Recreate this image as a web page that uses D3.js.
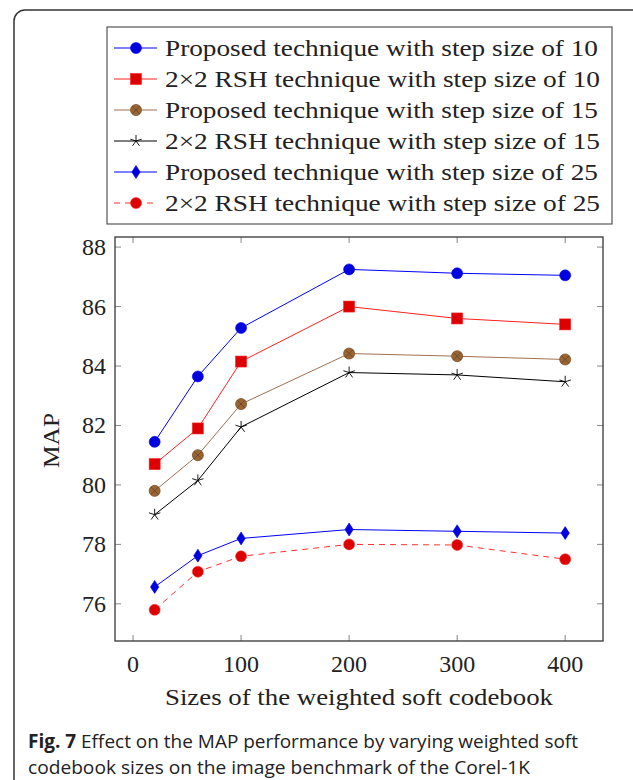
<!DOCTYPE html>
<html>
<head>
    <meta charset="utf-8">
    <title>MAP vs codebook size</title>
    <script src="https://cdn.jsdelivr.net/npm/d3@7"></script>
    <style>
        body { margin: 0; background: #fff; }
        text { font-family: "Liberation Serif", "DejaVu Serif", serif; fill: #222; }
        .cap { font-family: "Open Sans", "Noto Sans", sans-serif; }
    </style>
</head>
<body>
<script>
    // codebook sizes
    var sizes = [20, 60, 100, 200, 300, 400];
    // MAP values
    var prop10 = [81.45, 83.65, 85.28, 87.25, 87.12, 87.05];
    var rsh10  = [80.70, 81.90, 84.15, 86.00, 85.60, 85.40];
    var prop15 = [79.80, 81.00, 82.72, 84.42, 84.33, 84.22];
    var rsh15  = [79.00, 80.15, 81.95, 83.78, 83.70, 83.47];
    var prop25 = [76.57, 77.62, 78.20, 78.50, 78.44, 78.38];
    var rsh25  = [75.80, 77.08, 77.60, 78.00, 77.98, 77.50];
    var xTicks = [0, 100, 200, 300, 400];
    var yTicks = [76, 78, 80, 82, 84, 86, 88];
    var names = ['Proposed technique with step size of 10', '2\u00d72 RSH technique with step size of 10',
        'Proposed technique with step size of 15', '2\u00d72 RSH technique with step size of 15',
        'Proposed technique with step size of 25', '2\u00d72 RSH technique with step size of 25'];

    var series = [
        {name: names[0], values: prop10, line: '#0000ff', fill: '#0000dd', mark: 'circle', dash: null},
        {name: names[1], values: rsh10, line: '#ff2020', fill: '#dd0000', mark: 'square', dash: null},
        {name: names[2], values: prop15, line: '#a07050', fill: '#996633', mark: 'otimes', dash: null},
        {name: names[3], values: rsh15, line: '#000000', fill: '#000000', mark: 'star', dash: null},
        {name: names[4], values: prop25, line: '#0000ff', fill: '#0000dd', mark: 'diamond', dash: null},
        {name: names[5], values: rsh25, line: '#ff3030', fill: '#dd0000', mark: 'circle', dash: '6,5'}
    ];

    var width = 633, height = 780;
    var svg = d3.select('body').append('svg').attr('width', width).attr('height', height);
    var plot = {left: 115, right: 603, top: 237, bottom: 641};

    // outer rounded frame
    svg.append('rect').attr('x', 14).attr('y', 10).attr('width', 640).attr('height', 820)
        .attr('rx', 11).attr('fill', 'none').attr('stroke', '#333').attr('stroke-width', 1.5);

    var x = d3.scaleLinear().domain([-16.7, 435]).range([plot.left, plot.right]);
    var y = d3.scaleLinear().domain([74.75, 88.34]).range([plot.bottom, plot.top]);

    // ticks inside on all four sides
    var tickLen = 6;
    var g = svg.append('g');
    g.selectAll('.xt').data(xTicks).enter().append('path')
        .attr('d', function (d) {
            return 'M' + x(d) + ',' + plot.bottom + 'v' + (-tickLen) + 'M' + x(d) + ',' + plot.top + 'v' + tickLen;
        })
        .attr('stroke', '#888').attr('stroke-width', 1);
    g.selectAll('.yt').data(yTicks).enter().append('path')
        .attr('d', function (d) {
            return 'M' + plot.left + ',' + y(d) + 'h' + tickLen + 'M' + plot.right + ',' + y(d) + 'h' + (-tickLen);
        })
        .attr('stroke', '#888').attr('stroke-width', 1);

    g.selectAll('.xl').data(xTicks).enter().append('text')
        .attr('x', function (d) { return x(d); })
        .attr('y', 672)
        .attr('text-anchor', 'middle')
        .attr('font-size', 24)
        .text(function (d) { return d; });
    g.selectAll('.yl').data(yTicks).enter().append('text')
        .attr('x', 106)
        .attr('y', function (d) { return y(d) + 8; })
        .attr('text-anchor', 'end')
        .attr('font-size', 24)
        .text(function (d) { return d; });

    svg.append('rect').attr('x', plot.left).attr('y', plot.top)
        .attr('width', plot.right - plot.left).attr('height', plot.bottom - plot.top)
        .attr('fill', 'none').attr('stroke', '#444').attr('stroke-width', 1.4);

    svg.append('text').attr('x', 165).attr('y', 705).attr('font-size', 24)
        .attr('textLength', 388).attr('lengthAdjust', 'spacingAndGlyphs')
        .text('Sizes of the weighted soft codebook');
    svg.append('text').attr('transform', 'translate(59,468) rotate(-90)')
        .attr('font-size', 24).attr('textLength', 55).attr('lengthAdjust', 'spacingAndGlyphs').text('MAP');

    function drawMark(sel, s) {
        if (s.mark === 'circle') {
            sel.append('circle').attr('r', 5.5).attr('fill', s.fill).attr('stroke', s.line).attr('stroke-width', 0.6);
        } else if (s.mark === 'square') {
            sel.append('rect').attr('x', -5.5).attr('y', -5.5).attr('width', 11).attr('height', 11)
                .attr('fill', s.fill).attr('stroke', s.line).attr('stroke-width', 0.6);
        } else if (s.mark === 'otimes') {
            sel.append('circle').attr('r', 5.5).attr('fill', s.fill).attr('stroke', '#7a5030').attr('stroke-width', 0.8);
            sel.append('path').attr('d', 'M-3.9,-3.9L3.9,3.9M-3.9,3.9L3.9,-3.9')
                .attr('stroke', '#6a4020').attr('stroke-width', 0.8);
        } else if (s.mark === 'star') {
            var d = '';
            for (var k = 0; k < 5; k++) {
                var a = -Math.PI / 2 + k * 2 * Math.PI / 5;
                d += 'M0,0L' + (6 * Math.cos(a)).toFixed(2) + ',' + (6 * Math.sin(a)).toFixed(2);
            }
            sel.append('path').attr('d', d).attr('stroke', '#000').attr('stroke-width', 0.9).attr('fill', 'none');
        } else if (s.mark === 'diamond') {
            sel.append('path').attr('d', 'M0,-6.5L4.2,0L0,6.5L-4.2,0Z')
                .attr('fill', s.fill).attr('stroke', s.line).attr('stroke-width', 0.6);
        }
    }

    var line = d3.line()
        .x(function (d, i) { return x(sizes[i]); })
        .y(function (d) { return y(d); });

    series.forEach(function (s) {
        svg.append('path').datum(s.values)
            .attr('d', line)
            .attr('fill', 'none')
            .attr('stroke', s.line)
            .attr('stroke-width', 1)
            .attr('stroke-dasharray', s.dash);
        svg.selectAll(null).data(s.values).enter().append('g')
            .attr('transform', function (d, i) { return 'translate(' + x(sizes[i]) + ',' + y(d) + ')'; })
            .each(function () { drawMark(d3.select(this), s); });
    });

    // legend
    var legend = svg.append('g');
    legend.append('rect').attr('x', 107).attr('y', 27).attr('width', 505).attr('height', 197)
        .attr('fill', '#fff').attr('stroke', '#555').attr('stroke-width', 1.2);
    var rows = legend.selectAll('.row').data(series).enter().append('g')
        .attr('transform', function (d, i) { return 'translate(0,' + (48 + i * 31) + ')'; });
    rows.append('path').attr('d', 'M114,0H157')
        .attr('stroke', function (d) { return d.line; })
        .attr('stroke-width', 1)
        .attr('stroke-dasharray', function (d) { return d.dash; });
    rows.append('g').attr('transform', 'translate(136,0)')
        .each(function (d) { drawMark(d3.select(this), d); });
    rows.append('text').attr('x', 165).attr('y', 8).attr('font-size', 24)
        .attr('textLength', function (d, i) { return i % 2 === 0 ? 433 : 435; })
        .attr('lengthAdjust', 'spacingAndGlyphs')
        .text(function (d) { return d.name; });

    // caption
    var cap = svg.append('text').attr('class', 'cap').attr('x', 28).attr('y', 748).attr('font-size', 19)
        .attr('textLength', 550).attr('lengthAdjust', 'spacingAndGlyphs');
    cap.append('tspan').attr('font-weight', 'bold').text('Fig. 7');
    cap.append('tspan').text(' Effect on the MAP performance by varying weighted soft');
    svg.append('text').attr('class', 'cap').attr('x', 28).attr('y', 774).attr('font-size', 19)
        .attr('textLength', 502).attr('lengthAdjust', 'spacingAndGlyphs')
        .text('codebook sizes on the image benchmark of the Corel-1K');
</script>
</body>
</html>
